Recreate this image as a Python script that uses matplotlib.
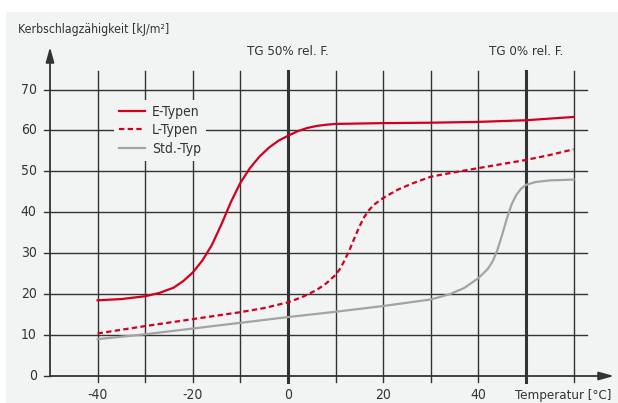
import matplotlib
matplotlib.use("Agg")
import matplotlib.pyplot as plt
from matplotlib.patches import Rectangle

plt.rcParams["font.family"] = ["DejaVu Sans"]
plt.rcParams["font.stretch"] = "condensed"

# values
e_x = [-40, -35, -30, -27, -24, -22, -20, -18, -16, -14, -12, -10, -8, -6, -4, -2, 0, 2, 4, 6, 8, 10, 20, 30, 40, 50, 60]
e_y = [18.5, 18.8, 19.5, 20.3, 21.6, 23.2, 25.3, 28.2, 32.0, 37.0, 42.5, 47.2, 50.8, 53.6, 55.8, 57.5, 58.7, 59.8, 60.6, 61.1, 61.4, 61.6, 61.8, 61.9, 62.1, 62.5, 63.3]

l_x = [-40, -30, -20, -10, -5, 0, 3, 6, 8, 10, 11, 12, 13, 14, 15, 16, 17, 18, 20, 23, 26, 30, 35, 40, 45, 50, 55, 60]
l_y = [10.4, 12.2, 13.9, 15.6, 16.6, 18.0, 19.3, 21.0, 22.6, 24.7, 26.3, 28.5, 31.0, 33.8, 36.5, 38.8, 40.5, 41.8, 43.5, 45.5, 47.0, 48.7, 49.8, 50.8, 51.8, 52.8, 54.0, 55.4]

s_x = [-40, -30, -20, -10, 0, 10, 20, 30, 34, 37, 40, 42, 43, 44, 45, 46, 47, 48, 49, 50, 52, 55, 60]
s_y = [9.0, 10.2, 11.6, 13.0, 14.4, 15.7, 17.1, 18.7, 20.0, 21.5, 23.9, 26.2, 28.0, 30.8, 34.5, 38.5, 42.0, 44.3, 45.8, 46.7, 47.4, 47.8, 48.0]

x_ticks = [-40, -20, 0, 20, 40]
y_ticks = [0, 10, 20, 30, 40, 50, 60, 70]
grid_x = [-40, -30, -20, -10, 0, 10, 20, 30, 40, 50, 60]
grid_y = [10, 20, 30, 40, 50, 60, 70]
tg_lines = [0, 50]
tg_labels = ["TG 50% rel. F.", "TG 0% rel. F."]

red = "#d2001e"
gray = "#a3a3a3"
dark = "#333333"
bg = "#f2f4f4"
txt = "#333333"

W, H = 618, 403
fig = plt.figure(figsize=(W / 100, H / 100), dpi=100)
fig.patches.append(Rectangle((6 / W, 0), 1, (H - 12) / H, transform=fig.transFigure,
                             facecolor=bg, edgecolor="none", zorder=-10))

ax = fig.add_axes([50 / W, 1 - 376 / H, (614 - 50) / W, (376 - 47) / H])
ax.set_xlim(-50, 68.5)
ax.set_ylim(0, 80.4)
ax.set_facecolor("none")
for s in ax.spines.values():
    s.set_visible(False)
ax.set_xticks([])
ax.set_yticks([])

# grid
for g in grid_y:
    ax.plot([-50, 62.8], [g, g], color=dark, lw=1.0, zorder=1)
for g in grid_x:
    w = 2.2 if g in tg_lines else 1.0
    ax.plot([g, g], [-1.5, 74.6], color=dark, lw=w, zorder=1, clip_on=False)
for g in y_ticks:
    ax.plot([-51.3, -50], [g, g], color=dark, lw=1.0, clip_on=False)

# axes with arrows
for end in [(68.5, 0), (-50, 80.4)]:
    ax.annotate("", xy=end, xytext=(-50, 0),
                arrowprops=dict(arrowstyle="-|>,head_length=0.9,head_width=0.25", color=dark,
                                lw=1.3, shrinkA=0, shrinkB=0), annotation_clip=False)

# curves
ax.plot(e_x, e_y, color=red, lw=1.6, zorder=3, label="E-Typen")
ax.plot(l_x, l_y, color=red, lw=1.6, ls=(0, (2.4, 1.5)), zorder=3, label="L-Typen")
ax.plot(s_x, s_y, color=gray, lw=1.6, zorder=3, label="Std.-Typ")

# tick labels
for t in x_ticks:
    ax.text(t, -4.7, str(t), ha="center", va="center", fontsize=10, color=txt)
for t in y_ticks:
    ax.text(-52.8, t, str(t), ha="right", va="center", fontsize=10, color=txt)

for xv, lab in zip(tg_lines, tg_labels):
    ax.text(xv, 79.2, lab, ha="center", va="center", fontsize=9.5, color=txt)

fig.text(18 / W, 1 - 30 / H, "Kerbschlagzähigkeit [kJ/m²]", ha="left", va="center",
         fontsize=8.8, color=txt)
ax.text(68, -4.7, "Temperatur [°C]", ha="right", va="center", fontsize=9.5, color=txt)

leg = ax.legend(loc="upper left", bbox_to_anchor=((107 - 50) / 564, 1 - (93 - 47) / 329),
                frameon=True, fontsize=10, handlelength=1.9, handletextpad=0.5,
                labelspacing=0.32, borderpad=0.35, labelcolor=txt)
leg.get_frame().set_facecolor(bg)
leg.get_frame().set_edgecolor("none")
leg.get_frame().set_alpha(1)
leg.set_zorder(5)

fig.savefig("out.png", dpi=100)
